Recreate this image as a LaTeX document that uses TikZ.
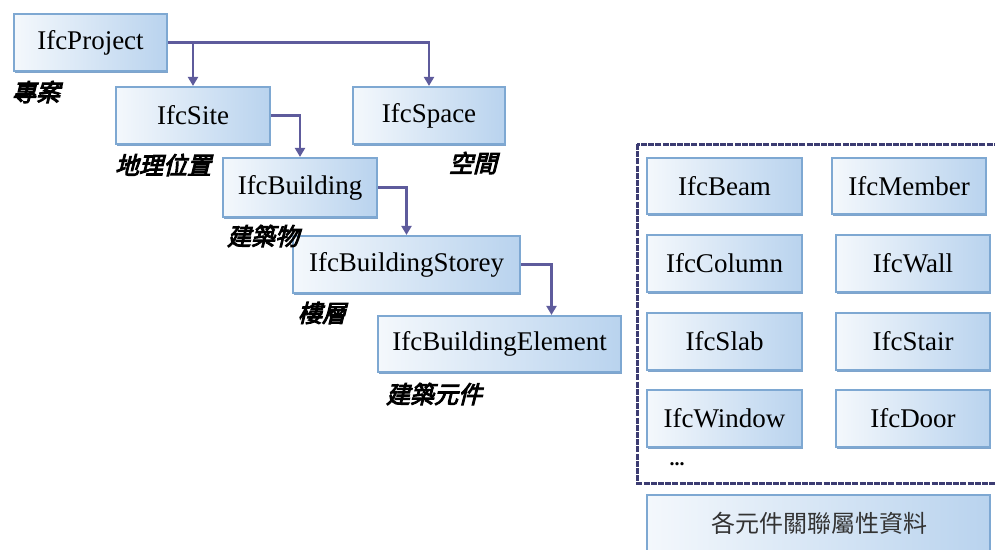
\documentclass[tikz,border=0pt]{standalone}
\usepackage{fontspec}
\setmainfont{Liberation Serif}
\newfontfamily\cjklab[FakeSlant=0.25,FakeBold=4]{Noto Sans CJK TC}
\newfontfamily\cjk{Noto Sans CJK TC}
\usetikzlibrary{arrows.meta,shadows}
\definecolor{conncol}{HTML}{5E5B9C}
\definecolor{boxedge}{HTML}{7EA8D2}
\definecolor{boxshadow}{HTML}{5F8DBF}
\definecolor{boxleft}{HTML}{F4F8FC}
\definecolor{boxright}{HTML}{B9D3EE}
\definecolor{framecol}{HTML}{3C3C72}
\tikzset{
  ifcbox/.style={rectangle, draw=boxedge, line width=2.2pt, left color=boxleft, right color=boxright,
    drop shadow={shadow xshift=0.8pt, shadow yshift=-1.8pt, fill=boxshadow, opacity=0.8},
    inner sep=0pt, font=\fontsize{27}{29}\selectfont},
  conn/.style={draw=conncol, line width=2.6pt, -{Triangle[width=10pt,length=9pt]}},
  lab/.style={font=\cjklab\fontsize{24}{26}\selectfont, inner sep=0pt},
}
\begin{document}
\begin{tikzpicture}[x=1pt,y=-1pt]
\useasboundingbox (0,0) rectangle (995,549);
\clip (0,0) rectangle (995,549);
% hierarchy boxes
\node[ifcbox, minimum width=153pt, minimum height=57pt] (proj) at (90.5,42.5) {IfcProject};
\node[ifcbox, minimum width=154pt, minimum height=57pt] (site) at (193,115.5) {IfcSite};
\node[ifcbox, minimum width=152pt, minimum height=57pt] (space) at (429,115.5) {IfcSpace};
\node[ifcbox, minimum width=154pt, minimum height=59pt] (bldg) at (300,187.5) {IfcBuilding};
\node[ifcbox, minimum width=227pt, minimum height=57pt] (storey) at (406.5,264.5) {IfcBuildingStorey};
\node[ifcbox, minimum width=243pt, minimum height=56pt] (elem) at (499.5,344) {IfcBuildingElement};
% labels
\node[lab] (l1) at (36,92) {專案};
\node[lab] (l2) at (163,165) {地理位置};
\node[lab] (l3) at (473,163) {空間};
\node[lab] (l4) at (263,236) {建築物};
\node[lab] (l5) at (322,313) {樓層};
\node[lab] (l6) at (434,394) {建築元件};
% connectors
\draw[conn] (proj.east) -| (site.north);
\draw[conn] (proj.east) -| (space.north);
\draw[conn] (site.east) -| (bldg.north);
\draw[conn] (bldg.east) -| (storey.north);
\draw[conn] (storey.east) -| ([xshift=52pt]elem.north);
% right panel
\draw[framecol, line width=3pt, dash pattern=on 6pt off 1.2pt] (637,144) rectangle (1005,483);
\node[ifcbox, minimum width=155pt, minimum height=56pt] (beam) at (724.5,186) {IfcBeam};
\node[ifcbox, minimum width=154pt, minimum height=56pt] (member) at (909,186) {IfcMember};
\node[ifcbox, minimum width=155pt, minimum height=57pt] (column) at (724.5,263.5) {IfcColumn};
\node[ifcbox, minimum width=154pt, minimum height=57pt] (wall) at (913,263.5) {IfcWall};
\node[ifcbox, minimum width=155pt, minimum height=57pt] (slab) at (724.5,341.5) {IfcSlab};
\node[ifcbox, minimum width=154pt, minimum height=57pt] (stair) at (913,341.5) {IfcStair};
\node[ifcbox, minimum width=155pt, minimum height=57pt] (window) at (724.5,418.5) {IfcWindow};
\node[ifcbox, minimum width=154pt, minimum height=57pt] (door) at (913,418.5) {IfcDoor};
\node[inner sep=0pt, font=\bfseries\fontsize{20}{20}\selectfont] (dots) at (677,464) {...};
\node[ifcbox, minimum width=343pt, minimum height=70pt] (props) at (818.5,530) {};
\node[inner sep=0pt, font=\cjk\fontsize{24}{26}\selectfont, text=black!80] (propstext) at (819,523) {各元件關聯屬性資料};
\end{tikzpicture}
\end{document}
